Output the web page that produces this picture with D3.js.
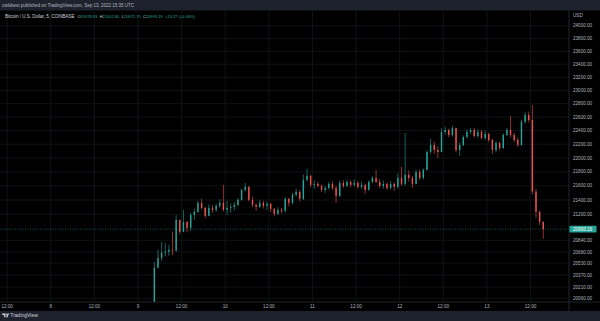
<!DOCTYPE html>
<html>
<head>
<meta charset="utf-8">
<script src="https://d3js.org/d3.v7.min.js"></script>
<style>
  html, body { margin: 0; padding: 0; background: #1e222d; }
  svg { display: block; font-family: "Liberation Sans", Arial, sans-serif; }
</style>
</head>
<body>
<div id="chart"></div>
<script>
// hourly candles, first candle opens Sep 9 04:00 UTC
const firstOpen = 19960;
const closes = [
  20468, 20600, 20670, 20684, 20711, 20700, 21122, 20957, 21095, 21012, 21192, 21234,
  21360, 21290, 21178, 21290, 21262, 21318, 21360, 21262, 21290, 21304, 21332, 21402,
  21543, 21585, 21402, 21332, 21304, 21360, 21318, 21346, 21276, 21206, 21262, 21248,
  21416, 21360, 21472, 21515, 21416, 21685, 21742, 21614, 21628, 21600, 21543, 21571,
  21628, 21571, 21458, 21642, 21600, 21656, 21614, 21642, 21585, 21614, 21543, 21656,
  21713, 21656, 21600, 21628, 21571, 21628, 21585, 21713, 21628, 21756, 21713, 21628,
  21799, 21713, 21828, 22087, 22189, 22116, 22087, 22380, 22409, 22335, 22438, 22116,
  22189, 22306, 22380, 22409, 22320, 22380, 22291, 22350, 22262, 22116, 22218, 22145,
  22335, 22409, 22335, 22262, 22189, 22527, 22631, 22557, 21520, 21234, 21095, 20993.19
];
const highs = [
  20542, 20711, 20820, 20800, 20779, 20960, 21190, 21130, 21262, 21100, 21220, 21280,
  21388, 21420, 21300, 21340, 21330, 21350, 21410, 21614, 21390, 21350, 21370, 21430,
  21560, 21640, 21600, 21450, 21350, 21400, 21390, 21380, 21360, 21290, 21300, 21290,
  21440, 21430, 21500, 21560, 21540, 21760, 21842, 21760, 21680, 21660, 21620, 21600,
  21660, 21660, 21600, 21680, 21680, 21690, 21680, 21690, 21670, 21660, 21630, 21680,
  21740, 21830, 21700, 21680, 21650, 21670, 21650, 21780, 21870, 22365, 21820, 21740,
  21830, 21830, 21850, 22110, 22280, 22240, 22170, 22440, 22460, 22430, 22470, 22440,
  22230, 22330, 22420, 22440, 22440, 22420, 22410, 22400, 22370, 22280, 22250, 22240,
  22360, 22440, 22616, 22370, 22300, 22560, 22680, 22680, 22780, 21560, 21250, 21100
];
const lows = [
  19940, 20460, 20560, 20620, 20630, 20640, 20680, 20920, 20950, 20950, 20970, 21120,
  21220, 21270, 21150, 21170, 21220, 21230, 21290, 21240, 21190, 21220, 21250, 21310,
  21390, 21520, 21380, 21300, 21250, 21290, 21280, 21260, 21230, 21170, 21190, 21210,
  21230, 21310, 21340, 21450, 21380, 21400, 21660, 21580, 21560, 21580, 21510, 21500,
  21550, 21540, 21360, 21440, 21570, 21580, 21580, 21590, 21560, 21560, 21490, 21530,
  21640, 21640, 21570, 21560, 21540, 21550, 21530, 21560, 21600, 21600, 21660, 21571,
  21620, 21680, 21690, 21820, 22060, 22060, 22000, 22080, 22340, 22300, 22310, 22080,
  22030, 22170, 22280, 22350, 22300, 22290, 22270, 22260, 22230, 22060, 22080, 22110,
  22130, 22320, 22300, 22230, 22160, 22180, 22500, 22520, 21480, 21150, 21050, 20860
];

// axis labels
const priceTicks = [24000, 23800, 23600, 23400, 23200, 23000, 22800, 22600, 22400, 22200,
  22000, 21800, 21600, 21400, 21200, 20840, 20680, 20530, 20370, 20210, 20060];
const timeTickLabels = ["12:00", "8", "12:00", "9", "12:00", "10", "12:00", "11",
  "12:00", "12", "12:00", "13", "12:00"];
const lastPrice = 20993.19;
const legendLabels = ["O", "H", "L", "C"];
const legendValues = ["20978.93", "21002.80", "20972.70", "20993.19"];
const legendChange = "+13.27 (+0.06%)";

const width = 600, height = 321;
const paneTop = 10.5, paneBottom = 302, plotRight = 569;
const upColor = "#26a69a", downColor = "#ef5350";
const textColor = "#b2b5be";

const svg = d3.select("#chart")
  .append("svg")
    .attr("width", width)
    .attr("height", height);

// background strips + black pane
svg.append("rect").attr("width", width).attr("height", height).attr("fill", "#1e222d");
svg.append("rect")
  .attr("x", 0).attr("y", paneTop)
  .attr("width", width).attr("height", 311 - paneTop)
  .attr("fill", "#000");

// scales
const hour = 3600 * 1000;
const firstTick = Date.UTC(2022, 8, 7, 12);
const lastTick = Date.UTC(2022, 8, 13, 12);
const x = d3.scaleUtc()
  .domain([new Date(firstTick), new Date(lastTick)])
  .range([7.15, 530.55]);

const y = d3.scaleLog()
  .domain([20060, 24000])
  .range([298.3, 25.7]);

// grid
const grid = svg.append("g");
grid.selectAll("line.v")
  .data(timeTickLabels)
  .enter()
  .append("line")
    .attr("x1", (d, i) => x(new Date(firstTick + i * 12 * hour)))
    .attr("x2", (d, i) => x(new Date(firstTick + i * 12 * hour)))
    .attr("y1", paneTop)
    .attr("y2", paneBottom)
    .attr("stroke", "#14161b")
    .attr("stroke-width", 0.8);
grid.selectAll("line.h")
  .data(priceTicks)
  .enter()
  .append("line")
    .attr("x1", 0)
    .attr("x2", plotRight)
    .attr("y1", d => y(d))
    .attr("y2", d => y(d))
    .attr("stroke", "#14161b")
    .attr("stroke-width", 0.8);

// candles
const candles = closes.map((c, i) => ({
  time: new Date(Date.UTC(2022, 8, 9, 4) + i * hour),
  open: i === 0 ? firstOpen : closes[i - 1],
  high: highs[i],
  low: lows[i],
  close: c
}));

svg.append("clipPath").attr("id", "plot-clip")
  .append("rect")
    .attr("x", 0).attr("y", paneTop + 8)
    .attr("width", plotRight).attr("height", paneBottom - paneTop - 8);

const bodyWidth = 1.4;
const candleG = svg.append("g").attr("clip-path", "url(#plot-clip)");
const candle = candleG.selectAll("g")
  .data(candles)
  .enter()
  .append("g")
    .attr("transform", d => "translate(" + x(new Date(+d.time + hour / 2)) + ",0)");

candle.append("line")
  .attr("y1", d => y(d.high))
  .attr("y2", d => y(d.low))
  .attr("stroke", d => d.close >= d.open ? upColor : downColor)
  .attr("stroke-width", 0.6);

candle.append("rect")
  .attr("x", -bodyWidth / 2)
  .attr("width", bodyWidth)
  .attr("y", d => y(Math.max(d.open, d.close)))
  .attr("height", d => Math.max(0.7, Math.abs(y(d.open) - y(d.close))))
  .attr("fill", d => d.close >= d.open ? upColor : downColor);

// last price dotted line
svg.append("line")
  .attr("x1", 0).attr("x2", plotRight)
  .attr("y1", y(lastPrice)).attr("y2", y(lastPrice))
  .attr("stroke", upColor)
  .attr("stroke-width", 0.5)
  .attr("stroke-dasharray", "1,1.5");

// axis borders
svg.append("line")
  .attr("x1", plotRight).attr("x2", plotRight)
  .attr("y1", paneTop).attr("y2", 311)
  .attr("stroke", "#2a2e39").attr("stroke-width", 0.8);
svg.append("line")
  .attr("x1", 0).attr("x2", width)
  .attr("y1", paneBottom).attr("y2", paneBottom)
  .attr("stroke", "#2a2e39").attr("stroke-width", 0.8);

// price axis
svg.append("text")
  .attr("x", 573).attr("y", 16.5)
  .attr("font-size", 4.6).attr("fill", textColor)
  .text("USD");
svg.append("g")
  .selectAll("text")
  .data(priceTicks)
  .enter()
  .append("text")
    .attr("x", 573)
    .attr("y", d => y(d))
    .attr("dy", "0.35em")
    .attr("font-size", 4.6)
    .attr("fill", textColor)
    .text(d => d.toFixed(2));

svg.append("rect")
  .attr("x", 569.5).attr("y", y(lastPrice) - 3.4)
  .attr("width", 27).attr("height", 6.8)
  .attr("rx", 0.8)
  .attr("fill", upColor);
svg.append("text")
  .attr("x", 573).attr("y", y(lastPrice))
  .attr("dy", "0.35em")
  .attr("font-size", 4.6)
  .attr("fill", "#ffffff")
  .text(lastPrice.toFixed(2));

// time axis
svg.append("g")
  .selectAll("text")
  .data(timeTickLabels)
  .enter()
  .append("text")
    .attr("x", (d, i) => x(new Date(firstTick + i * 12 * hour)))
    .attr("y", 308)
    .attr("text-anchor", "middle")
    .attr("font-size", 4.6)
    .attr("fill", textColor)
    .text(d => d);

// header texts
svg.append("text")
  .attr("x", 2).attr("y", 7.3)
  .attr("font-size", 4.5).attr("fill", textColor)
  .text("owlsbest published on TradingView.com, Sep 13, 2022 15:35 UTC");

const titleY = 17.6;
svg.append("text")
  .attr("x", 5).attr("y", titleY)
  .attr("font-size", 4.5).attr("fill", "#d1d4dc")
  .text("Bitcoin / U.S. Dollar, 5, COINBASE");

// OHLC legend, one flowing line
const legend = svg.append("text")
  .attr("x", 77.5).attr("y", titleY)
  .attr("font-size", 4.0)
  .attr("fill", "#d1d4dc");
legendLabels.forEach((k, i) => {
  legend.append("tspan").attr("dx", i === 0 ? 0 : 2.4).text(k);
  legend.append("tspan").attr("fill", upColor).text(legendValues[i]);
});
legend.append("tspan").attr("dx", 2.4).attr("fill", upColor).text(legendChange);

// footer logo
const logo = svg.append("g").attr("fill", "#d1d4dc");
logo.append("path").attr("d", "M2.2,313.6 h3.2 v3.6 h-1.3 v-2.3 h-1.9 z");
logo.append("circle").attr("cx", 6.4).attr("cy", 314.3).attr("r", 0.7);
logo.append("path").attr("d", "M7.6,313.6 h1.5 l-1.6,3.6 h-1.5 z");
svg.append("text")
  .attr("x", 10.3).attr("y", 317.3)
  .attr("font-size", 5)
  .attr("fill", "#d1d4dc")
  .text("TradingView");
</script>
</body>
</html>
